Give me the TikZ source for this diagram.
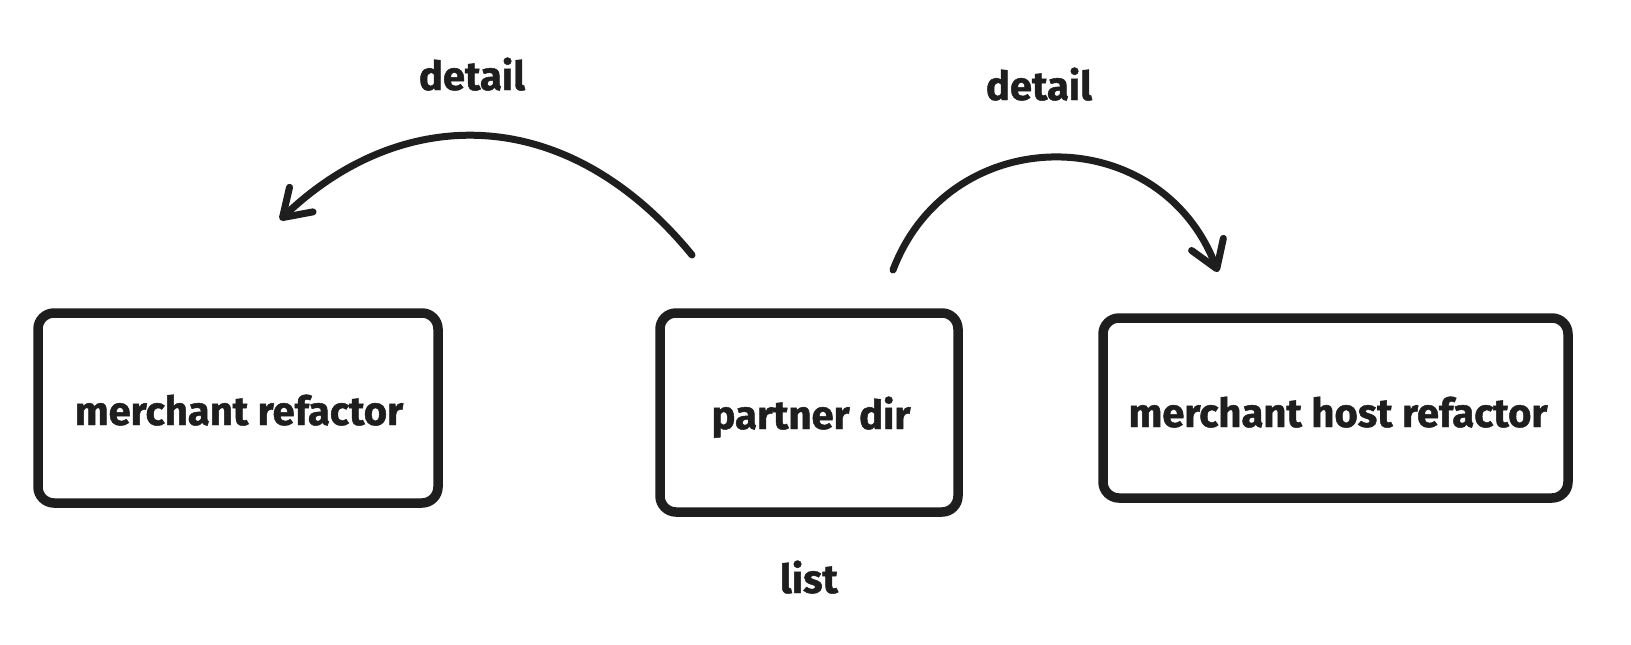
\documentclass[tikz,border=0pt]{standalone}
\usepackage{fontspec}
\setmainfont{Fira Sans}[BoldFeatures={FakeBold=1.2}]
\usetikzlibrary{arrows.meta}
\definecolor{ink}{HTML}{1E1E1E}
\tikzset{
  box/.style={draw=ink, line width=9.5pt, rounded corners=16pt},
  lbl/.style={text=ink, font=\fontsize{40}{44}\selectfont\bfseries, anchor=base, inner sep=0pt},
  conn/.style={draw=ink, line width=7pt, line cap=round,
    -{Straight Barb[length=26pt, width=34pt, line width=7pt, line cap=round, line join=round]}},
}
\begin{document}
\begin{tikzpicture}[x=1pt, y=-1pt]
\useasboundingbox (0,0) rectangle (1631,645);
% boxes
\draw[box] (38,313) rectangle (438,503);
\draw[box] (660,313) rectangle (958,512);
\draw[box] (1103,318) rectangle (1568,498);
% box texts
\node[lbl] (mr) at (239,425) {merchant refactor};
\node[lbl] (pd) at (811,429) {partner dir};
\node[lbl] (mhr) at (1338,427) {merchant host refactor};
% edge labels
\node[lbl] (d1) at (472,90) {detail};
\node[lbl] (d2) at (1039,100) {detail};
\node[lbl] (ls) at (809,593) {list};
% connector ends
\coordinate (s1) at (692,255);
\coordinate (e1) at (280,220);
\coordinate (s2) at (893,270);
\coordinate (e2) at (1218,272);
\draw[conn] (s1) .. controls (565,100) and (400,105) .. (e1);
\draw[conn] (s2) .. controls (950,120) and (1160,120) .. (e2);
\end{tikzpicture}
\end{document}
